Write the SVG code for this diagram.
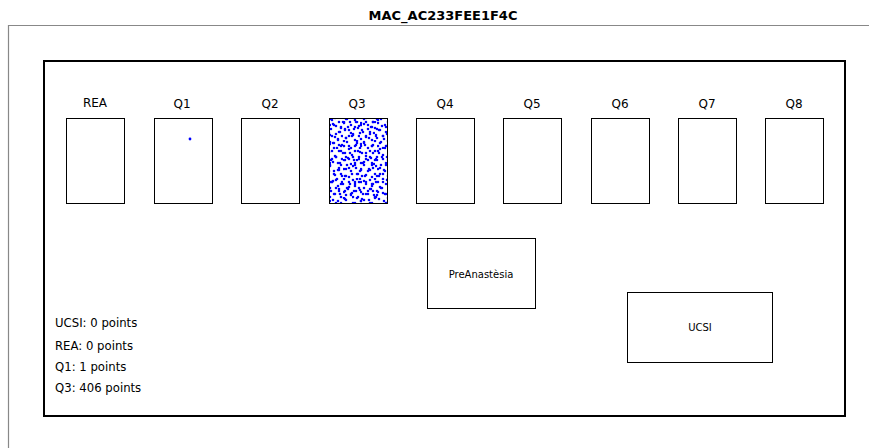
<svg xmlns="http://www.w3.org/2000/svg" width="869" height="448" viewBox="0 0 869 448">
<style>
text{font-family:"DejaVu Sans","Liberation Sans",sans-serif;fill:#000}
.lbl{font-size:12px;text-anchor:middle}
.info{font-size:11.7px}
.small{font-size:10px;text-anchor:middle}
.box{fill:none;stroke:#000;stroke-width:1}
.dots{fill:none;stroke:#0000ff;stroke-width:2.6;stroke-linecap:round}
</style>
<defs>
<pattern id="pa" patternUnits="userSpaceOnUse" x="329" y="118" width="23" height="31">
<path class="dots" d="M3 2h0M14 4h0M19 9h0M7 8h0M1 17h0M11 14h0M17 20h0M22 15h0M5 25h0M13 27h0M20 28h0M9 21h0M16 11h0M2 11h0M8 30h0M21 4h0"/>
</pattern>
<pattern id="pb" patternUnits="userSpaceOnUse" x="331" y="121" width="31" height="19">
<path class="dots" d="M2 3h0M13 1h0M24 6h0M8 11h0M18 9h0M29 12h0M4 16h0M15 17h0M26 1h0M21 15h0M10 6h0M30 4h0"/>
</pattern>
<pattern id="pc" patternUnits="userSpaceOnUse" x="326" y="115" width="17" height="23">
<path class="dots" d="M4 4h0M12 2h0M8 10h0M15 13h0M2 15h0M10 19h0M16 21h0M6 21h0M1 8h0M13 7h0"/>
</pattern>
</defs>
<rect width="869" height="448" fill="#fff"/>
<text x="443" y="20" style="font-size:13px;font-weight:bold" text-anchor="middle">MAC_AC233FEE1F4C</text>
<path d="M8.5 448V25.5H869" fill="none" stroke="#888" stroke-width="1.2"/>
<rect x="44" y="61" width="801" height="355" fill="none" stroke="#000" stroke-width="2"/>
<g id="REA"><rect class="box" x="66.5" y="118.5" width="58" height="85"/><text class="lbl" x="95" y="107">REA</text></g>
<g id="Q1"><rect class="box" x="154.5" y="118.5" width="58" height="85"/><text class="lbl" x="182" y="108">Q1</text><circle cx="190" cy="139" r="1.4" fill="#0000ff"/></g>
<g id="Q2"><rect class="box" x="241.5" y="118.5" width="58" height="85"/><text class="lbl" x="270" y="108">Q2</text></g>
<g id="Q3"><rect x="329" y="118" width="58" height="85" fill="url(#pa)"/><rect x="329" y="118" width="58" height="85" fill="url(#pb)"/><rect x="329" y="118" width="58" height="85" fill="url(#pc)"/><rect class="box" x="329.5" y="118.5" width="58" height="85"/><text class="lbl" x="357" y="108">Q3</text></g>
<g id="Q4"><rect class="box" x="416.5" y="118.5" width="58" height="85"/><text class="lbl" x="445" y="108">Q4</text></g>
<g id="Q5"><rect class="box" x="503.5" y="118.5" width="58" height="85"/><text class="lbl" x="532" y="108">Q5</text></g>
<g id="Q6"><rect class="box" x="591.5" y="118.5" width="58" height="85"/><text class="lbl" x="620" y="108">Q6</text></g>
<g id="Q7"><rect class="box" x="678.5" y="118.5" width="58" height="85"/><text class="lbl" x="707" y="108">Q7</text></g>
<g id="Q8"><rect class="box" x="765.5" y="118.5" width="58" height="85"/><text class="lbl" x="794" y="108">Q8</text></g>
<g id="PreAnastesia"><rect class="box" x="427.5" y="238.5" width="108" height="70"/><text class="small" x="481" y="278">PreAnastèsia</text></g>
<g id="UCSI"><rect class="box" x="627.5" y="292.5" width="145" height="70"/><text class="small" x="700" y="331">UCSI</text></g>
<g id="connectors"></g>
<g id="legend">
<text class="info" x="55" y="327">UCSI: 0 points</text>
<text class="info" x="55" y="350">REA: 0 points</text>
<text class="info" x="55" y="371">Q1: 1 points</text>
<text class="info" x="55" y="392">Q3: 406 points</text>
</g>
</svg>
